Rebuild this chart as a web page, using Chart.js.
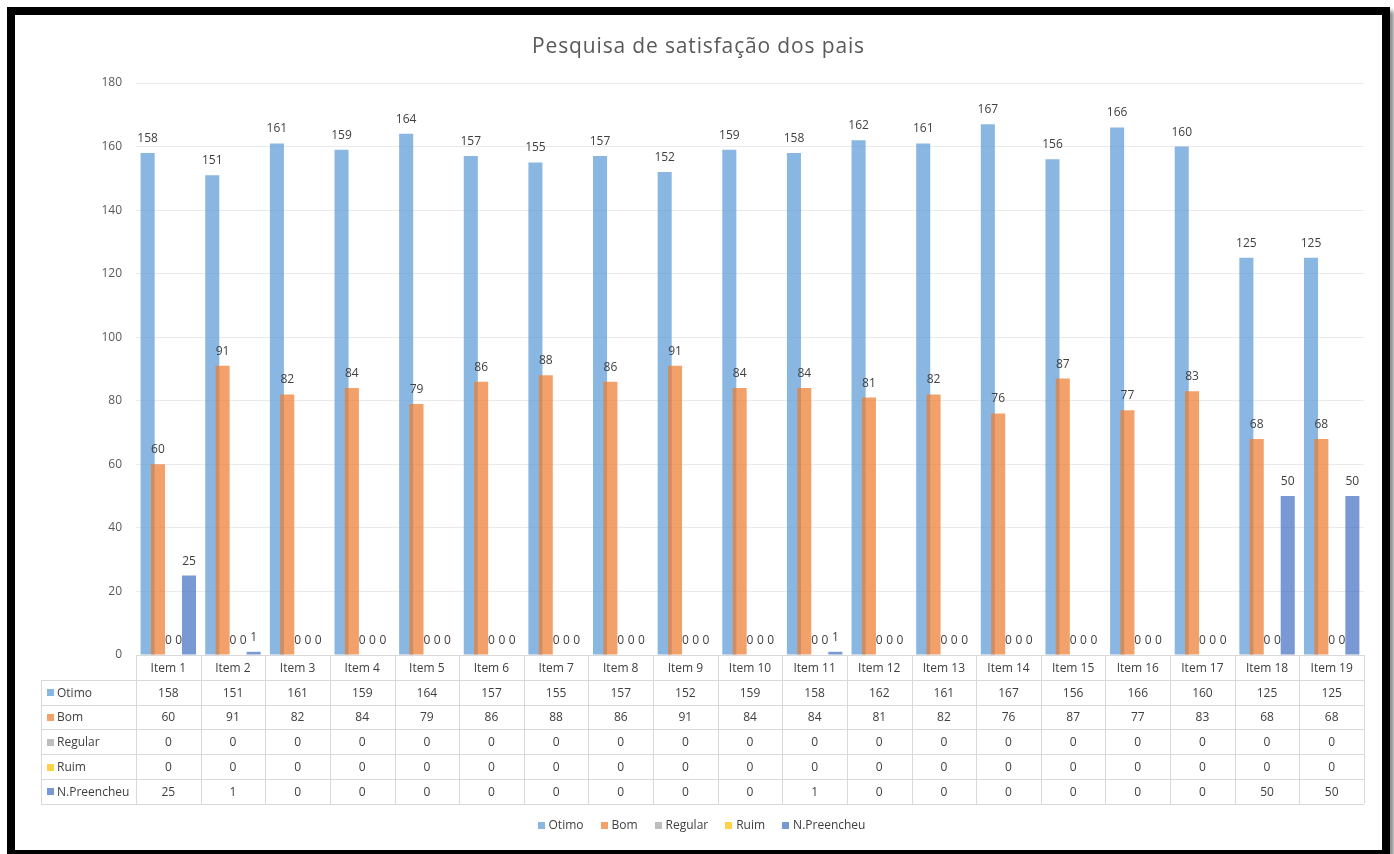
<!DOCTYPE html>
<html>
<head>
<meta charset="utf-8">
<script src="https://cdn.jsdelivr.net/npm/chart.js@4.4.1/dist/chart.umd.min.js"></script>
<style>
  html, body { margin: 0; padding: 0; background: #ffffff; width: 1394px; height: 854px; overflow: hidden; }
  #frame {
    position: absolute; left: 7px; top: 7px;
    width: 1367px; height: 835px;
    border: 8px solid #000;
    box-shadow: 4px 4px 4px rgba(0,0,0,0.45);
    background: #fff;
  }
  #c { display: block; }
</style>
</head>
<body>
<div id="frame"><canvas id="c" width="1367" height="835"></canvas></div>
<script>
const categories = ['Item 1','Item 2','Item 3','Item 4','Item 5','Item 6','Item 7','Item 8','Item 9','Item 10',
  'Item 11','Item 12','Item 13','Item 14','Item 15','Item 16','Item 17','Item 18','Item 19'];
const seriesNames = ['Otimo','Bom','Regular','Ruim','N.Preencheu'];
const otimo      = [158,151,161,159,164,157,155,157,152,159,158,162,161,167,156,166,160,125,125];
const bom        = [60,91,82,84,79,86,88,86,91,84,84,81,82,76,87,77,83,68,68];
const regular    = [0,0,0,0,0,0,0,0,0,0,0,0,0,0,0,0,0,0,0];
const ruim       = [0,0,0,0,0,0,0,0,0,0,0,0,0,0,0,0,0,0,0];
const nPreencheu = [25,1,0,0,0,0,0,0,0,0,1,0,0,0,0,0,0,50,50];
const yMin = 0, yMax = 180, yStep = 20;

const colors = ['rgba(91,155,213,0.72)','rgba(237,125,49,0.72)','rgba(165,165,165,0.72)','rgba(255,192,0,0.72)','rgba(68,114,196,0.72)'];
const values = [otimo, bom, regular, ruim, nPreencheu];
const FONT = '"Open Sans", "Noto Sans", sans-serif';
const TEXT = '#404040';
const LINE = '#D9D9D9';

// draw datasets in index order so later series overlap earlier ones
const orderPlugin = {
  id: 'orderPlugin',
  beforeDatasetsDraw(chart) {
    const metas = chart.getSortedVisibleDatasetMetas();
    for (let i = 0; i < metas.length; i++) metas[i].controller.draw();
    return false;
  }
};

const decorPlugin = {
  id: 'decor',
  afterDraw(chart) {
    const ctx = chart.ctx;
    const area = chart.chartArea;
    const xs = chart.scales.x;
    ctx.save();
    // Title
    ctx.fillStyle = '#595959';
    ctx.font = '21px ' + FONT;
    ctx.textAlign = 'center';
    ctx.textBaseline = 'middle';
    ctx.letterSpacing = '0.85px';
    ctx.fillText('Pesquisa de satisfação dos pais', chart.width / 2, 32);
    ctx.letterSpacing = '0px';

    // Data labels
    ctx.font = '12px ' + FONT;
    ctx.fillStyle = TEXT;
    ctx.textAlign = 'center';
    ctx.textBaseline = 'alphabetic';
    chart.getSortedVisibleDatasetMetas().forEach((meta) => {
      meta.data.forEach((bar, i) => {
        const v = values[meta.index][i];
        ctx.fillText(String(v), bar.x, bar.y - 11);
      });
    });

    // Data table
    const n = categories.length;
    const colW = (area.right - area.left) / n;
    const rowTop = area.bottom;
    const rowH = 24.8;
    const labelLeft = 26;
    ctx.strokeStyle = LINE;
    ctx.lineWidth = 1;
    ctx.beginPath();
    ctx.moveTo(area.left, Math.round(rowTop) + 0.5);
    ctx.lineTo(area.right, Math.round(rowTop) + 0.5);
    for (let r = 1; r <= 6; r++) {
      const y = Math.round(rowTop + r * rowH) + 0.5;
      ctx.moveTo(labelLeft, y);
      ctx.lineTo(area.right, y);
    }
    for (let c = 0; c <= n; c++) {
      const x = Math.round(area.left + c * colW) + 0.5;
      ctx.moveTo(x, rowTop);
      ctx.lineTo(x, rowTop + 6 * rowH);
    }
    ctx.moveTo(labelLeft + 0.5, rowTop + rowH);
    ctx.lineTo(labelLeft + 0.5, rowTop + 6 * rowH);
    ctx.stroke();

    ctx.font = '12px ' + FONT;
    ctx.fillStyle = TEXT;
    ctx.textBaseline = 'middle';
    ctx.textAlign = 'center';
    categories.forEach((cat, i) => {
      ctx.fillText(cat, xs.getPixelForValue(i), rowTop + rowH / 2 + 1);
    });
    seriesNames.forEach((name, s) => {
      const yMid = rowTop + (s + 1) * rowH + rowH / 2 + 1;
      ctx.fillStyle = colors[s];
      ctx.fillRect(32, Math.round(yMid - 4), 7, 7);
      ctx.fillStyle = TEXT;
      ctx.textAlign = 'left';
      ctx.fillText(name, 42, yMid);
      ctx.textAlign = 'center';
      values[s].forEach((v, i) => {
        ctx.fillText(String(v), xs.getPixelForValue(i), yMid);
      });
    });

    // Legend
    ctx.font = '12px ' + FONT;
    const widths = seriesNames.map(t => ctx.measureText(t).width);
    const box = 7, gap = 4, spacing = 17;
    let total = 0;
    widths.forEach((w, i) => { total += box + gap + w + (i < widths.length - 1 ? spacing : 0); });
    let lx = chart.width / 2 - total / 2 + 3;
    const ly = 811;
    ctx.textAlign = 'left';
    seriesNames.forEach((name, i) => {
      ctx.fillStyle = colors[i];
      ctx.fillRect(Math.round(lx), ly - 4, box, box);
      ctx.fillStyle = TEXT;
      ctx.fillText(name, lx + box + gap, ly);
      lx += box + gap + widths[i] + spacing;
    });
    ctx.restore();
  }
};

new Chart(document.getElementById('c'), {
  type: 'bar',
  data: {
    labels: categories,
    datasets: seriesNames.map((name, i) => ({
      label: name,
      data: values[i],
      backgroundColor: colors[i],
      borderWidth: 0,
      categoryPercentage: 0.8,
      barPercentage: 1.36
    }))
  },
  options: {
    responsive: false,
    animation: false,
    devicePixelRatio: 1,
    layout: { padding: { top: 68, left: 0, right: 18, bottom: 195 } },
    plugins: {
      legend: { display: false },
      title: { display: false },
      tooltip: { enabled: false }
    },
    scales: {
      x: { display: false },
      y: {
        min: yMin, max: yMax,
        ticks: { stepSize: yStep, padding: 14, color: '#595959', font: { family: FONT, size: 12 } },
        grid: { color: (c) => c.tick.value === 0 ? 'rgba(0,0,0,0)' : '#EAEAEA', drawTicks: false },
        border: { display: false },
        afterFit(scale) { scale.width = 121; }
      }
    }
  },
  plugins: [orderPlugin, decorPlugin]
});
</script>
</body>
</html>
